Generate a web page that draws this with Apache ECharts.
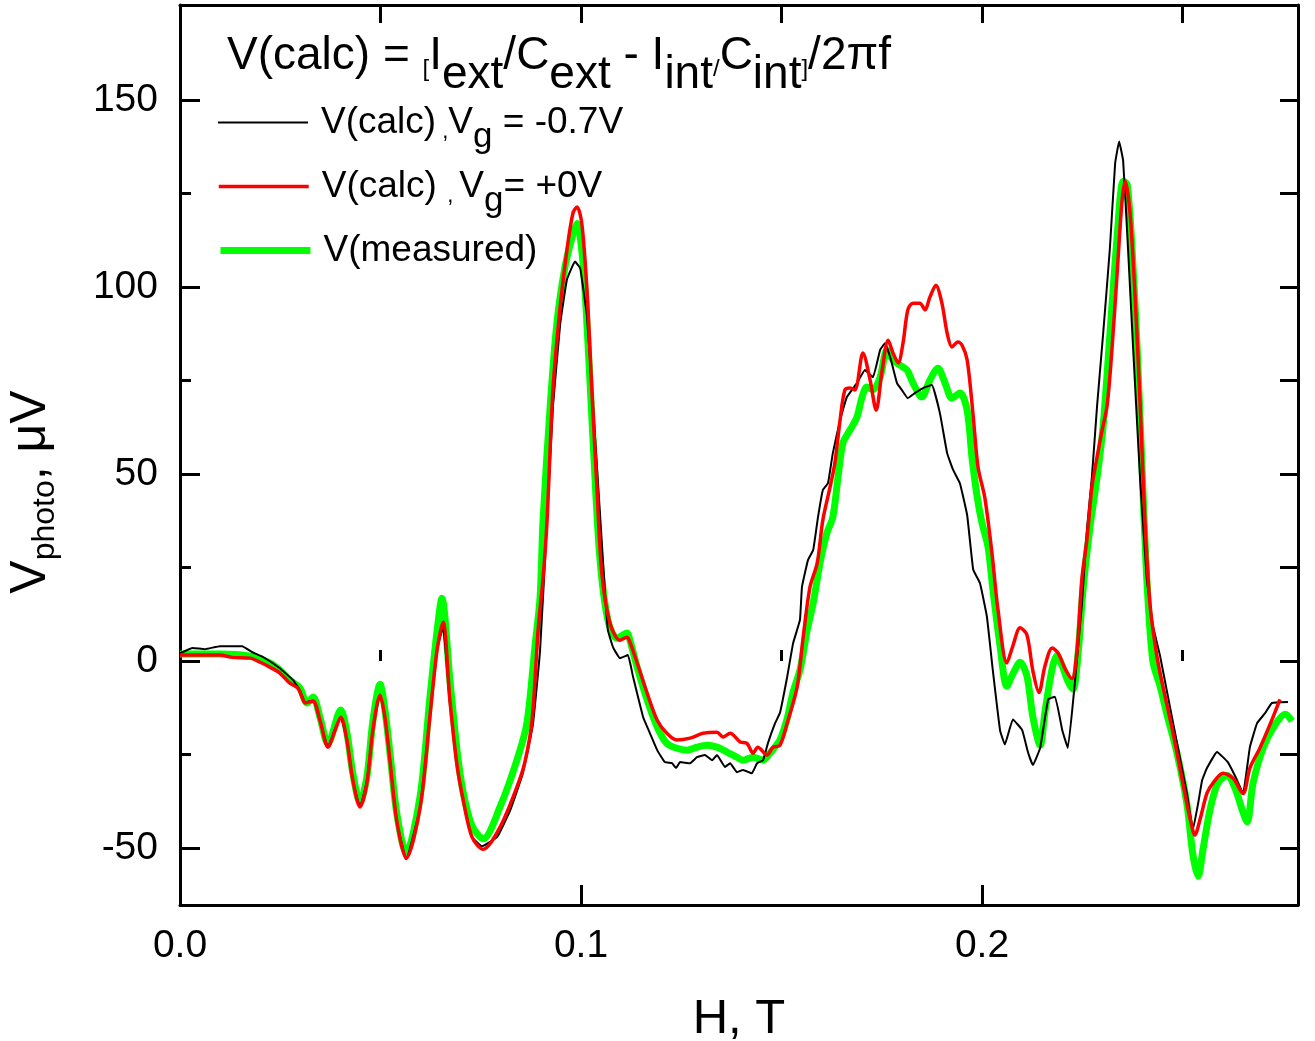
<!DOCTYPE html>
<html>
<head>
<meta charset="utf-8">
<script src="https://cdn.jsdelivr.net/npm/echarts@6/dist/echarts.min.js"></script>
<style>
  html, body { margin: 0; padding: 0; background: #fff; }
  #chart { width: 1315px; height: 1041px; }
</style>
</head>
<body>
<div id="chart"></div>
<script>
// H (T), V (µV)
const blackCurve = [
  [0, 2.1], [0.0032, 3.5], [0.0062, 3.2], [0.0100, 4.0], [0.0155, 4.0], [0.0180, 2.4], [0.0207, 1.1],
  [0.0249, -1.9], [0.0282, -5.1], [0.0299, -7.8], [0.0312, -11], [0.0332, -10.5], [0.0349, -16],
  [0.0369, -23], [0.0387, -18], [0.0401, -15], [0.0416, -21], [0.0431, -32], [0.0449, -39], [0.0466, -32],
  [0.0481, -18], [0.0499, -9], [0.0511, -15], [0.0524, -27], [0.0541, -43], [0.0564, -53], [0.0599, -39],
  [0.0623, -15], [0.0641, 3], [0.0656, 9.1], [0.0673, -11], [0.0691, -28], [0.0706, -37], [0.0728, -47],
  [0.0753, -49.5], [0.0791, -47], [0.0823, -40], [0.0855, -30], [0.0880, -17], [0.0898, 3], [0.0915, 37],
  [0.0930, 68], [0.0948, 90], [0.0965, 102], [0.0985, 106.8], [0.0998, 105], [0.1015, 92], [0.1030, 68],
  [0.1047, 40], [0.1060, 18], [0.1067, 8.3], [0.1080, 3.7], [0.1097, 0.8], [0.1117, 1.6], [0.1130, -4.3],
  [0.1155, -15], [0.1172, -19.3], [0.1190, -23.8], [0.1209, -27], [0.1227, -27.3], [0.1237, -28.6],
  [0.1247, -27], [0.1272, -27.3], [0.1289, -25.7], [0.1309, -25.1], [0.1327, -26.5], [0.1339, -25.1],
  [0.1359, -28.3], [0.1372, -27.3], [0.1389, -29.7], [0.1404, -29.1], [0.1426, -30], [0.1439, -27.3],
  [0.1454, -26.5], [0.1466, -22], [0.1484, -16.6], [0.1496, -13.9], [0.1514, -4.3], [0.1529, 4.8],
  [0.1546, 11], [0.1551, 19.8], [0.1566, 27], [0.1579, 29.7], [0.1591, 38.5], [0.1603, 45.7], [0.1616, 47.6],
  [0.1628, 55.6], [0.1646, 64.4], [0.1663, 70.6], [0.1688, 74.3], [0.1708, 77.8], [0.1728, 75.9],
  [0.1746, 83.2], [0.1758, 85], [0.1771, 81.3], [0.1788, 74.3], [0.1800, 72.5], [0.1815, 70.3],
  [0.1833, 71.7], [0.1853, 73], [0.1875, 73.8], [0.1895, 66.3], [0.1913, 55.6], [0.1928, 51.1],
  [0.1945, 47.5], [0.1963, 39], [0.1978, 24.5], [0.1995, 20.8], [0.2012, 12], [0.2027, -2.5],
  [0.2045, -18.5], [0.2057, -22.3], [0.2077, -15.6], [0.2100, -18.4], [0.2115, -24.5], [0.2127, -27.8],
  [0.2145, -23.2], [0.2165, -10.2], [0.2182, -9.5], [0.2200, -18.4], [0.2214, -23.2], [0.2232, -5.3],
  [0.2249, 15.1], [0.2262, 35.6], [0.2274, 49.2], [0.2287, 68.3], [0.2302, 87.4], [0.2319, 110.5],
  [0.2332, 133.1], [0.2342, 138.9], [0.2352, 133.7], [0.2364, 110.5], [0.2377, 83.3], [0.2394, 49.2],
  [0.2411, 21.9], [0.2426, 9.6], [0.2444, 1.4], [0.2461, -8], [0.2486, -21.7], [0.2511, -35.4],
  [0.2526, -45], [0.2539, -38], [0.2549, -31.8], [0.2561, -28.6], [0.2586, -24.3], [0.2613, -27],
  [0.2636, -31.8], [0.2651, -35.4], [0.2668, -23], [0.2686, -16.6], [0.2706, -13.9], [0.2723, -11.2],
  [0.2763, -10.9]
];

const redCurve = [
  [0, 1.6], [0.0100, 1.6], [0.0130, 1.0], [0.0175, 0.8], [0.0200, -0.3], [0.0224, -1.6], [0.0249, -3.2],
  [0.0274, -5.9], [0.0294, -7.2], [0.0304, -9.6], [0.0312, -11.2], [0.0332, -10.7], [0.0349, -15.8],
  [0.0369, -23], [0.0387, -18.4], [0.0401, -15.0], [0.0416, -21], [0.0431, -31.8], [0.0449, -39],
  [0.0466, -32.6], [0.0481, -18.4], [0.0499, -9.1], [0.0511, -15], [0.0524, -27], [0.0541, -43],
  [0.0564, -52.7], [0.0599, -39], [0.0623, -15], [0.0641, 2.9], [0.0656, 10.4], [0.0673, -10.4],
  [0.0691, -28], [0.0706, -37], [0.0728, -47], [0.0756, -50.3], [0.0798, -44.4], [0.0840, -33.7],
  [0.0860, -27], [0.0878, -15.8], [0.0893, 8.3], [0.0905, 21.7], [0.0915, 36.9], [0.0930, 72.5],
  [0.0948, 94.7], [0.0965, 110], [0.0980, 119.8], [0.0990, 121.4], [0.1002, 117], [0.1015, 99],
  [0.1027, 72.5], [0.1040, 45.7], [0.1052, 23.5], [0.1072, 10.2], [0.1097, 5.6], [0.1115, 6.4],
  [0.1122, 5.1], [0.1140, -0.5], [0.1165, -8.6], [0.1190, -15.8], [0.1214, -19.3], [0.1239, -21.1],
  [0.1272, -20.6], [0.1304, -19.3], [0.1339, -19], [0.1354, -20.3], [0.1372, -19.3], [0.1397, -21.6],
  [0.1414, -22], [0.1429, -24.6], [0.1441, -23], [0.1464, -25.1], [0.1479, -23], [0.1496, -22.5],
  [0.1514, -16.6], [0.1539, -6.9], [0.1554, 6.4], [0.1571, 19.8], [0.1589, 26.2], [0.1603, 37.7],
  [0.1621, 46.5], [0.1633, 52.9], [0.1646, 64.4], [0.1658, 72.5], [0.1671, 73], [0.1683, 72.5],
  [0.1703, 82.4], [0.1721, 75.1], [0.1736, 67.1], [0.1751, 77.8], [0.1766, 85.8], [0.1778, 82.4],
  [0.1791, 79.7], [0.1803, 85], [0.1815, 93.9], [0.1828, 95.7], [0.1845, 95.7], [0.1858, 93.9],
  [0.1870, 97.3], [0.1885, 100.5], [0.1900, 95.7], [0.1913, 87.7], [0.1925, 84], [0.1940, 85.3],
  [0.1950, 84.5], [0.1963, 80.5], [0.1978, 65.5], [0.1990, 51.9], [0.2007, 43.7], [0.2025, 28.7],
  [0.2040, 13.6], [0.2062, -0.5], [0.2077, 4.1], [0.2095, 8.9], [0.2112, 7], [0.2127, -2.7],
  [0.2142, -8.4], [0.2157, -1.3], [0.2175, 3.5], [0.2190, 2.1], [0.2207, -2], [0.2224, -4.7],
  [0.2237, 2.8], [0.2249, 21.9], [0.2262, 32.9], [0.2274, 46.5], [0.2287, 54.6], [0.2299, 61.5],
  [0.2312, 68.3], [0.2324, 83.3], [0.2337, 103.7], [0.2349, 122.8], [0.2357, 128.3], [0.2369, 120],
  [0.2382, 96.9], [0.2394, 69.6], [0.2406, 38.2], [0.2419, 15.1], [0.2436, 1.4], [0.2451, -6.7],
  [0.2476, -19], [0.2501, -32.6], [0.2519, -42.2], [0.2531, -46.5], [0.2544, -42.2], [0.2561, -35.3],
  [0.2576, -32.6], [0.2601, -30], [0.2626, -31.3], [0.2651, -35.4], [0.2668, -28.6], [0.2693, -23.2],
  [0.2718, -17], [0.2743, -10.2]
];

const greenCurve = [
  [0, 1.9], [0.0100, 1.9], [0.0175, 1.3], [0.0224, -0.5], [0.0249, -2.4], [0.0274, -5.1], [0.0299, -7.2],
  [0.0317, -11.2], [0.0332, -9.6], [0.0349, -15], [0.0369, -22], [0.0401, -13.1], [0.0416, -19],
  [0.0431, -30], [0.0449, -37.7], [0.0466, -31], [0.0481, -16], [0.0499, -6.2], [0.0511, -13],
  [0.0524, -25], [0.0541, -41], [0.0564, -51.2], [0.0599, -36], [0.0623, -10], [0.0641, 8], [0.0653, 16.8],
  [0.0673, -5], [0.0691, -24], [0.0706, -35], [0.0728, -44], [0.0756, -47.5], [0.0798, -39], [0.0840, -26.5],
  [0.0865, -16.6], [0.0885, 3.7], [0.0898, 17.1], [0.0905, 36.9], [0.0923, 67.9], [0.0940, 90.4],
  [0.0960, 105.3], [0.0978, 113.4], [0.0990, 117], [0.1005, 106.4], [0.1017, 85.8], [0.1030, 59.1],
  [0.1047, 27.8], [0.1067, 11], [0.1090, 6.1], [0.1115, 7.5], [0.1122, 5.6], [0.1140, -1.6], [0.1165, -10.4],
  [0.1190, -17.6], [0.1214, -22], [0.1239, -23.3], [0.1264, -23.8], [0.1289, -23], [0.1314, -22.5],
  [0.1339, -23], [0.1364, -24.3], [0.1389, -25.7], [0.1404, -26.5], [0.1429, -25.7], [0.1454, -26.5],
  [0.1471, -24.6], [0.1496, -21.1], [0.1514, -15.4], [0.1529, -8.2], [0.1546, -2.4], [0.1564, 8.3],
  [0.1579, 15.5], [0.1596, 26.2], [0.1613, 34.2], [0.1628, 38.5], [0.1641, 49.2], [0.1653, 58.3],
  [0.1671, 61.8], [0.1688, 65.2], [0.1701, 70.6], [0.1713, 73.3], [0.1728, 72.5], [0.1746, 75.9],
  [0.1763, 83.2], [0.1778, 80.5], [0.1796, 79.1], [0.1813, 77.8], [0.1828, 74.3], [0.1850, 70.6],
  [0.1870, 75.1], [0.1890, 78.3], [0.1908, 74.3], [0.1925, 70.3], [0.1945, 71.7], [0.1963, 67],
  [0.1975, 54.5], [0.1988, 43.9], [0.2000, 36.9], [0.2015, 30.5], [0.2027, 19.3], [0.2045, 4.1],
  [0.2062, -6.7], [0.2077, -3.4], [0.2095, -0.3], [0.2112, -4], [0.2127, -15], [0.2145, -22.5],
  [0.2157, -13.6], [0.2175, -2], [0.2187, 1.4], [0.2200, -1.3], [0.2214, -5.3], [0.2227, -7.5],
  [0.2239, 1.4], [0.2252, 19.3], [0.2269, 35.6], [0.2287, 49.2], [0.2302, 62.8], [0.2319, 87.4],
  [0.2337, 113.4], [0.2352, 128.3], [0.2362, 127.5], [0.2374, 110.5], [0.2387, 83.3], [0.2399, 51.9],
  [0.2411, 21.9], [0.2426, 0], [0.2444, -6.7], [0.2461, -14.2], [0.2486, -24.5], [0.2511, -38.2],
  [0.2526, -51.8], [0.2539, -57.5], [0.2551, -50.4], [0.2569, -39.5], [0.2588, -32.6], [0.2611, -30.6],
  [0.2631, -34], [0.2648, -39.5], [0.2661, -43], [0.2676, -32.6], [0.2701, -23.2], [0.2731, -17],
  [0.2756, -14.2], [0.2773, -16]
];

const X_MIN = 0, X_MAX = 0.2788;
const Y_MIN = -65.2, Y_MAX = 175.4;
const xMajor = [0, 0.1, 0.2];
const xMinor = [0.05, 0.15, 0.25];
const xTop = [0.05, 0.1, 0.15, 0.2, 0.25];
const yMajor = [-50, 0, 50, 100, 150];
const yMinor = [-25, 25, 75, 125];
const yRight = [-50, -25, 0, 25, 50, 75, 100, 125, 150];

const NAME_BLACK = 'V(calc), Vg = -0.7V';
const NAME_RED = 'V(calc), Vg = +0V';
const NAME_GREEN = 'V(measured)';

const FONT = '"Liberation Sans", Arial, sans-serif';
const AXIS_W = 3;

const chart = echarts.init(document.getElementById('chart'), null, { renderer: 'canvas' });

const legendRich = {
  a: { fontSize: 37, lineHeight: 42, fontFamily: FONT, color: '#000' },
  c: { fontSize: 22, lineHeight: 24, fontFamily: FONT, color: '#000', padding: [18, 0, 0, 0] },
  g: { fontSize: 35, lineHeight: 38, fontFamily: FONT, color: '#000', padding: [30, 0, 0, 0] },
};

function legendAt(name, top, width, text) {
  return {
    data: [name],
    left: 217,
    top,
    padding: 0,
    itemWidth: 90,
    itemHeight: 20,
    selectedMode: false,
    lineStyle: { width },
    itemStyle: { color: 'transparent', borderColor: 'transparent', borderWidth: 0, opacity: 0 },
    formatter: () => text,
    textStyle: { fontFamily: FONT, fontSize: 37, color: '#000', padding: [0, 0, 0, 8], rich: legendRich },
  };
}

const axisLine = { show: true, onZero: false, lineStyle: { color: '#000', width: AXIS_W } };
const plain = { fontFamily: FONT, color: '#000', fontWeight: 'normal' };
const rt = (size, lh, pad) => ({ fontSize: size, lineHeight: lh, fontFamily: FONT, fontWeight: 'normal', color: '#000', padding: pad });

chart.setOption({
  animation: false,
  backgroundColor: '#fff',
  grid: { left: 180, right: 17, top: 5, bottom: 136, containLabel: false, outerBoundsMode: 'none' },
  title: {
    left: 227,
    top: 31,
    padding: 0,
    text: '{m|V(calc) = }{k|[}{m|I}{s|ext}{m|/C}{s|ext}{m| - I}{s|int}{k|/}{m|C}{s|int}{k|]}{m|/2\u03c0f}',
    textStyle: {
      fontWeight: 'normal',
      rich: {
        m: rt(46, 50, [0, 0, 0, 0]),
        s: rt(46, 50, [38, 0, 0, 0]),
        k: rt(24, 26, [26, 0, 0, 0]),
      },
    },
  },
  legend: [
    legendAt(NAME_BLACK, 90, 2, '{a|V(calc)}{c| ,}{a|V}{g|g}{a| = -0.7V}'),
    legendAt(NAME_RED, 154, 3.5, '{a|V(calc) }{c|, }{a|V}{g|g}{a|= +0V}'),
    legendAt(NAME_GREEN, 232, 7, '{a|V(measured)}'),
  ],
  xAxis: [
    {
      type: 'value', min: X_MIN, max: X_MAX, position: 'bottom',
      axisLine,
      axisTick: { inside: true, length: 20, customValues: xMajor, lineStyle: { color: '#000', width: AXIS_W } },
      axisLabel: { customValues: xMajor, margin: 22, fontSize: 39, ...plain, formatter: (v) => v.toFixed(1) },
      splitLine: { show: false },
      name: 'H, T', nameLocation: 'middle', nameGap: 90,
      nameTextStyle: { fontSize: 49, ...plain },
    },
    {
      type: 'value', min: X_MIN, max: X_MAX, position: 'bottom',
      axisLine: { show: false },
      axisTick: { inside: true, length: 11, customValues: xMinor, lineStyle: { color: '#000', width: AXIS_W } },
      axisLabel: { show: false },
      splitLine: { show: false },
    },
    {
      type: 'value', min: X_MIN, max: X_MAX, position: 'top',
      axisLine,
      axisTick: { inside: true, length: 18, customValues: xTop, lineStyle: { color: '#000', width: AXIS_W } },
      axisLabel: { show: false },
      splitLine: { show: false },
    },
  ],
  yAxis: [
    {
      type: 'value', min: Y_MIN, max: Y_MAX, position: 'left',
      axisLine,
      axisTick: { inside: true, length: 20, customValues: yMajor, lineStyle: { color: '#000', width: AXIS_W } },
      axisLabel: { customValues: yMajor, margin: 22, fontSize: 39, ...plain },
      splitLine: { show: false },
      name: '{a|V}{s|photo}{e|, \u03bcV}', nameLocation: 'middle', nameGap: 122,
      nameTextStyle: {
        ...plain,
        rich: {
          a: rt(50, 54, [0, 0, 0, 0]),
          s: rt(32, 34, [28, 0, 0, 0]),
          e: rt(50, 54, [0, 74, 0, 0]),
        },
      },
    },
    {
      type: 'value', min: Y_MIN, max: Y_MAX, position: 'left',
      axisLine: { show: false },
      axisTick: { inside: true, length: 11, customValues: yMinor, lineStyle: { color: '#000', width: AXIS_W } },
      axisLabel: { show: false },
      splitLine: { show: false },
    },
    {
      type: 'value', min: Y_MIN, max: Y_MAX, position: 'right',
      axisLine,
      axisTick: { inside: true, length: 18, customValues: yRight, lineStyle: { color: '#000', width: AXIS_W } },
      axisLabel: { show: false },
      splitLine: { show: false },
    },
  ],
  series: [
    {
      name: NAME_GREEN, type: 'line', data: greenCurve, xAxisIndex: 0, yAxisIndex: 0,
      symbol: 'none', smooth: 0.3, color: '#00ff00',
      lineStyle: { color: '#00ff00', width: 7 },
    },
    {
      name: NAME_BLACK, type: 'line', data: blackCurve, xAxisIndex: 0, yAxisIndex: 0,
      symbol: 'none', smooth: 0.1, color: '#000000',
      lineStyle: { color: '#000000', width: 2 },
    },
    {
      name: NAME_RED, type: 'line', data: redCurve, xAxisIndex: 0, yAxisIndex: 0,
      symbol: 'none', smooth: 0.3, color: '#ff0000',
      lineStyle: { color: '#ff0000', width: 3.5 },
    },
  ],
});
</script>
</body>
</html>
